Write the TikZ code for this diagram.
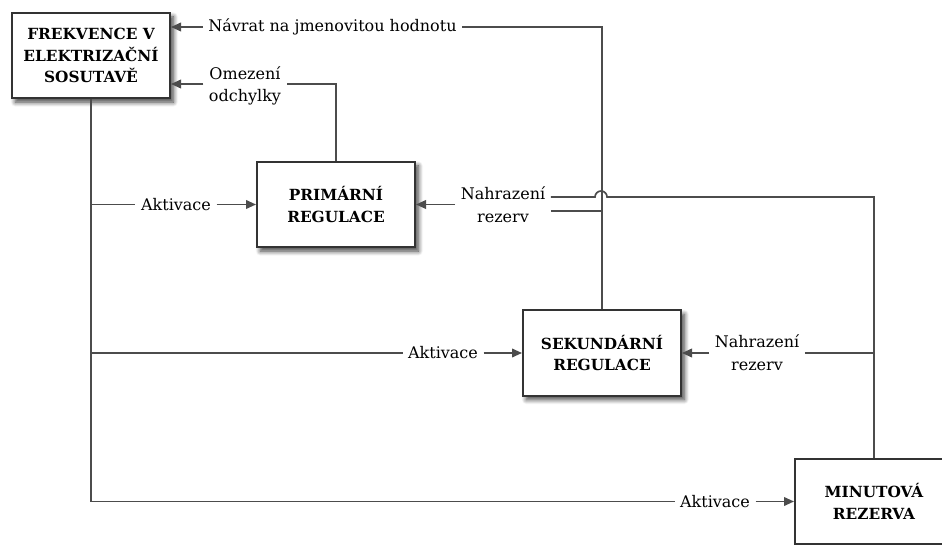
\documentclass[tikz,border=0pt]{standalone}
\usepackage{fontspec}
\setmainfont{DejaVu Serif}
\usetikzlibrary{arrows.meta,shadows.blur}

\begin{document}
\begin{tikzpicture}[x=0.75pt,y=-0.75pt,
  box/.style={draw=black!80, line width=1.5pt, fill=white,
    minimum width=118.5pt, minimum height=64pt, align=center,
    font=\bfseries\fontsize{11.5}{16}\selectfont,
    blur shadow={shadow xshift=2.5pt, shadow yshift=-3pt,
      shadow blur radius=3.5pt, shadow blur steps=8, shadow opacity=75}},
  lbl/.style={inner xsep=4pt, inner ysep=1pt, align=center,
    font=\fontsize{12}{17}\selectfont},
  wire/.style={draw=black!70, line width=1.25pt},
  arr/.style={wire, -{Triangle[length=7.5pt,width=6.5pt]}}]

\useasboundingbox (0,0) rectangle (942,545);
\clip (0,0) rectangle (942,545);

% blocks
\node[box] (F) at (91,55.5)  {FREKVENCE V\\ELEKTRIZAČNÍ\\SOSUTAVĚ};
\node[box] (P) at (336,204.5) {PRIMÁRNÍ\\REGULACE};
\node[box] (S) at (602,353)   {SEKUNDÁRNÍ\\REGULACE};
\node[box] (M) at (874,501.5) {MINUTOVÁ\\REZERVA};

% signal labels
\node[lbl] (N1) at (332.5,27) {Návrat na jmenovitou hodnotu};
\node[lbl] (O)  at (245,86)   {Omezení\\odchylky};
\node[lbl] (A1) at (176,204.5) {Aktivace};
\node[lbl] (A2) at (443,353)   {Aktivace};
\node[lbl] (A3) at (715,501.5) {Aktivace};
\node[lbl] (NP) at (503,204.5) {Nahrazení\\rezerv};
\node[lbl] (NS) at (757,353)   {Nahrazení\\rezerv};

% return to nominal value
\draw[wire] (S.north) |- (N1.east);
\draw[arr] (N1.west) -- (F.east |- N1.west);

% deviation limiting
\draw[wire] (P.north) |- (O.east |- 0,84);
\draw[arr] (O.west |- 0,84) -- (F.east |- 0,84);

% activation bus
\draw[wire] (F.south) |- (A3.west);
\draw[arr] (A3.east) -- (M.west);
\draw[wire] (F.south |- A1.west) -- (A1.west);
\draw[arr] (A1.east) -- (P.west);
\draw[wire] (F.south |- A2.west) -- (A2.west);
\draw[arr] (A2.east) -- (S.west);

% reserve replacement for primary control
\draw[arr] (NP.west) -- (P.east);
\draw[wire] (NP.east |- 0,211) -- (S.north |- 0,211);
\draw[wire] (NP.east |- 0,197) -- (595,197)
  arc[start angle=180, end angle=360, radius=6]
  -- (M.north |- 0,197) -- (M.north);

% reserve replacement for secondary control
\draw[arr] (NS.west) -- (S.east);
\draw[wire] (NS.east) -- (M.north |- NS.east);
\end{tikzpicture}
\end{document}
